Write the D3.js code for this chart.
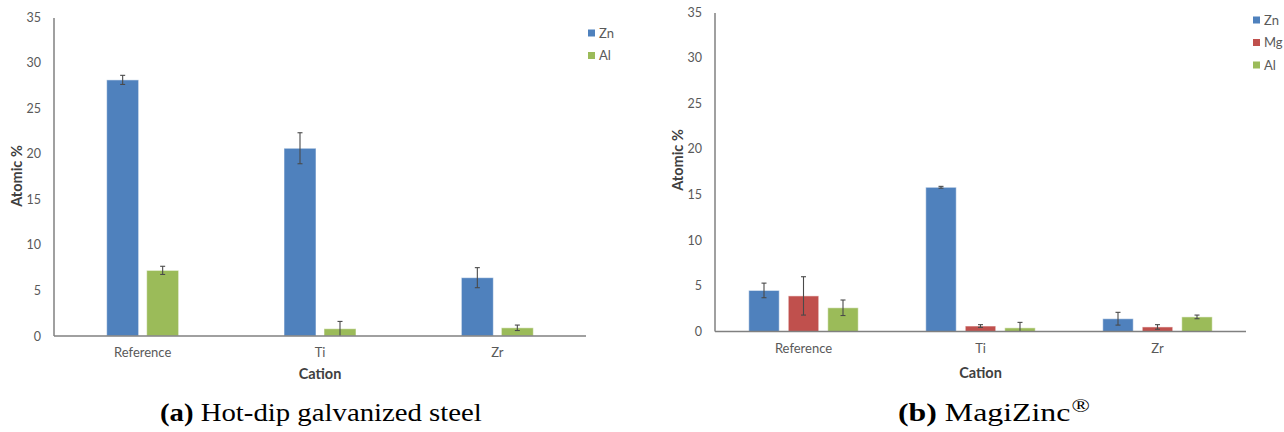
<!DOCTYPE html>
<html>
<head>
<meta charset="utf-8">
<script src="https://cdn.jsdelivr.net/npm/d3@7"></script>
<style>
  html, body { margin: 0; padding: 0; background: #fff; }
  svg { display: block; }
</style>
</head>
<body>
<svg id="fig" width="1284" height="432"></svg>
<script>
// Surface composition after conversion treatment, per cation
const cations = ["Reference", "Ti", "Zr"];
const yTicks = [0, 5, 10, 15, 20, 25, 30, 35];

// (a) Hot-dip galvanized steel
const hdgSeries = ["Zn", "Al"];
const hdgZn = [28.1, 20.6, 6.4];
const hdgZnErr = [0.5, 1.7, 1.1];
const hdgAl = [7.2, 0.8, 0.9];
const hdgAlErr = [0.45, 0.8, 0.3];

// (b) MagiZinc
const mzSeries = ["Zn", "Mg", "Al"];
const mzZn = [4.5, 15.8, 1.4];
const mzZnErr = [0.8, 0.1, 0.7];
const mzMg = [3.9, 0.6, 0.5];
const mzMgErr = [2.1, 0.15, 0.25];
const mzAl = [2.6, 0.4, 1.6];
const mzAlErr = [0.85, 0.6, 0.2];

const colors = { Zn: "#4F81BD", Mg: "#C0504D", Al: "#9BBB59" };

const svg = d3.select("#fig");
const sans = "Lato, 'Open Sans', sans-serif";

function panel(opt) {
  const g = svg.append("g");
  const x = d3.scaleBand().domain(cations).range([opt.left, opt.right]);
  const y = d3.scaleLinear().domain([0, 35]).range([opt.bottom, opt.top]);
  const n = opt.series.length;
  const groupW = n * opt.barW + (n - 1) * opt.gap;
  const inner = d3.scaleBand().domain(opt.series)
    .range([-groupW / 2, groupW / 2])
    .paddingInner(opt.gap / (opt.barW + opt.gap)).paddingOuter(0);

  // y tick labels (no tick marks, no grid)
  const yAxis = d3.axisLeft(y).tickValues(yTicks).tickSize(0).tickPadding(13);
  const ya = g.append("g").attr("transform", `translate(${opt.left},0)`).call(yAxis);
  ya.select(".domain").remove();
  ya.selectAll("text").attr("fill", "#595959").attr("font-family", sans).attr("font-size", 12.5);

  // bars
  const rows = [];
  opt.series.forEach((s, si) => {
    cations.forEach((c, ci) => {
      rows.push({ s, c, v: opt.values[si][ci], e: opt.errors[si][ci] });
    });
  });
  const cx = d => x(d.c) + x.bandwidth() / 2 + inner(d.s);
  g.selectAll("rect.bar").data(rows).join("rect")
    .attr("class", "bar")
    .attr("x", cx)
    .attr("width", inner.bandwidth())
    .attr("y", d => y(d.v))
    .attr("height", d => y(0) - y(d.v))
    .attr("fill", d => colors[d.s])
    .attr("stroke", "rgba(255,255,255,0.55)")
    .attr("stroke-width", 1);

  // error bars
  const eb = g.selectAll("g.err").data(rows).join("g").attr("class", "err")
    .attr("stroke", "#4a4a4a").attr("stroke-width", 1.1);
  const mid = d => cx(d) + inner.bandwidth() / 2;
  eb.append("line")
    .attr("x1", mid).attr("x2", mid)
    .attr("y1", d => y(d.v + d.e)).attr("y2", d => y(Math.max(0, d.v - d.e)));
  eb.append("line")
    .attr("x1", d => mid(d) - 2.5).attr("x2", d => mid(d) + 2.5)
    .attr("y1", d => y(d.v + d.e)).attr("y2", d => y(d.v + d.e));
  eb.filter(d => d.v - d.e > 0).append("line")
    .attr("x1", d => mid(d) - 2.5).attr("x2", d => mid(d) + 2.5)
    .attr("y1", d => y(d.v - d.e)).attr("y2", d => y(d.v - d.e));

  // axis lines
  g.append("line").attr("x1", opt.left).attr("x2", opt.left)
    .attr("y1", opt.top + 1).attr("y2", opt.bottom)
    .attr("stroke", "#808080").attr("stroke-width", 1.5);
  g.append("line").attr("x1", opt.left).attr("x2", opt.right)
    .attr("y1", opt.bottom).attr("y2", opt.bottom)
    .attr("stroke", "#808080").attr("stroke-width", 1.5);

  // category labels
  const xAxis = d3.axisBottom(x).tickSize(0).tickPadding(opt.catPad);
  const xa = g.append("g").attr("transform", `translate(0,${opt.bottom})`).call(xAxis);
  xa.select(".domain").remove();
  xa.selectAll("text").attr("fill", "#595959").attr("font-family", sans).attr("font-size", 13);

  // axis titles
  g.append("text").text("Cation")
    .attr("x", (opt.left + opt.right) / 2 + opt.xTitleDx).attr("y", opt.xTitleY)
    .attr("text-anchor", "middle").attr("font-family", sans)
    .attr("font-weight", "bold").attr("font-size", 14.5).attr("fill", "#404040");
  g.append("text").text("Atomic %")
    .attr("transform", `translate(${opt.yTitleX},${opt.yTitleY}) rotate(-90)`)
    .attr("text-anchor", "middle").attr("font-family", sans)
    .attr("font-weight", "bold").attr("font-size", 14.5).attr("fill", "#404040");

  // legend
  const lg = g.append("g").attr("transform", `translate(${opt.legX},${opt.legY})`);
  opt.series.forEach((s, i) => {
    lg.append("rect").attr("x", 0).attr("y", i * opt.legStep - 3.5)
      .attr("width", 7).attr("height", 7).attr("fill", colors[s]);
    lg.append("text").text(s).attr("x", 11).attr("y", i * opt.legStep)
      .attr("dy", "0.35em").attr("font-family", sans).attr("font-size", 13)
      .attr("fill", "#595959");
  });

  // caption, fitted to its column width
  const cap = g.append("text").attr("x", 0).attr("y", 0)
    .attr("font-family", "'Liberation Serif', 'DejaVu Serif', serif")
    .attr("font-size", 25).attr("fill", "#000");
  cap.append("tspan").attr("font-weight", "bold").text(opt.capLabel);
  cap.append("tspan").text(" " + opt.capText);
  if (opt.capSup) {
    cap.append("tspan").attr("font-size", 19).attr("dx", 1).attr("dy", -9).text(opt.capSup);
  }
  const w = cap.node().getBBox().width;
  cap.attr("transform", `translate(${opt.capX},421) scale(${opt.capW / w},1)`);
}

panel({
  series: hdgSeries, values: [hdgZn, hdgAl], errors: [hdgZnErr, hdgAlErr],
  left: 54, right: 586, top: 17, bottom: 336,
  barW: 32, gap: 8, catPad: 12,
  xTitleDx: 0, xTitleY: 379, yTitleX: 22, yTitleY: 176,
  legX: 588, legY: 33, legStep: 22.5,
  capX: 160, capW: 322, capLabel: "(a)", capText: "Hot-dip galvanized steel"
});

panel({
  series: mzSeries, values: [mzZn, mzMg, mzAl], errors: [mzZnErr, mzMgErr, mzAlErr],
  left: 715, right: 1246, top: 12, bottom: 331.5,
  barW: 30.5, gap: 9, catPad: 12,
  xTitleDx: 0, xTitleY: 378, yTitleX: 683, yTitleY: 160,
  legX: 1253, legY: 20, legStep: 22.5,
  capX: 898, capW: 192, capLabel: "(b)", capText: "MagiZinc", capSup: "®"
});
</script>
</body>
</html>
